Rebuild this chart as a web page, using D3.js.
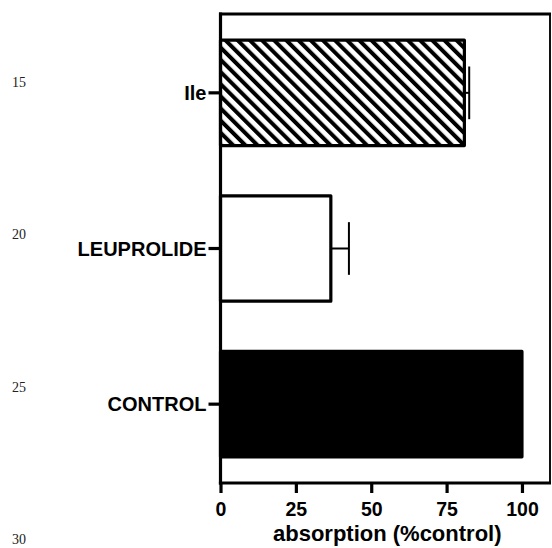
<!DOCTYPE html>
<html>
<head>
<meta charset="utf-8">
<script src="https://cdn.jsdelivr.net/npm/d3@7"></script>
<style>
  html, body { margin: 0; padding: 0; background: #fff; }
  svg { display: block; }
  .lab { font-family: "Liberation Sans", Arial, sans-serif; font-weight: bold; fill: #000; }
  .lineno { font-family: "Liberation Serif", "Times New Roman", serif; font-size: 14px; fill: #222; }
</style>
</head>
<body>
<div id="chart"></div>
<script>
// data (top to bottom)
const categories = ['Ile', 'LEUPROLIDE', 'CONTROL'];
const values = [80.9, 36.6, 100];
const errors = [1.6, 6.0, 0];
const xTicks = [0, 25, 50, 75, 100];
const xTitle = 'absorption (%control)';
const lineNumbers = ['15', '20', '25', '30'];

const width = 552, height = 548;
const plot = { left: 220.5, right: 550, top: 14, bottom: 483 };
const xMax = 109.3;

const svg = d3.select('#chart').append('svg')
  .attr('width', width)
  .attr('height', height);

// hatch for the Ile bar
const defs = svg.append('defs');
defs.append('pattern')
  .attr('id', 'hatch')
  .attr('patternUnits', 'userSpaceOnUse')
  .attr('width', 8.6)
  .attr('height', 8.6)
  .attr('patternTransform', 'rotate(-45)')
  .append('line')
  .attr('x1', 2).attr('y1', 0)
  .attr('x2', 2).attr('y2', 8.6)
  .attr('stroke', '#000')
  .attr('stroke-width', 4);

const fills = ['url(#hatch)', '#fff', '#000'];

const x = d3.scaleLinear()
  .domain([0, xMax])
  .range([plot.left, plot.right]);

const y = d3.scaleBand()
  .domain(categories)
  .range([plot.top, plot.bottom])
  .paddingInner(0.323)
  .paddingOuter(0.168);

// bars
svg.selectAll('.bar')
  .data(categories)
  .enter()
  .append('rect')
  .attr('class', 'bar')
  .attr('x', x(0))
  .attr('y', d => y(d))
  .attr('width', (d, i) => x(values[i]) - x(0))
  .attr('height', y.bandwidth())
  .attr('fill', (d, i) => fills[i])
  .attr('stroke', '#000')
  .attr('stroke-width', 3.2)
  .attr('stroke-linejoin', 'round');

// error bars (upper side only)
const errG = svg.append('g')
  .attr('stroke', '#000')
  .attr('stroke-width', 2);
categories.forEach((c, i) => {
  if (!errors[i]) return;
  const cy = y(c) + y.bandwidth() / 2;
  const xe = x(values[i] + errors[i]);
  errG.append('line')
    .attr('x1', x(values[i])).attr('x2', xe)
    .attr('y1', cy).attr('y2', cy);
  errG.append('line')
    .attr('x1', xe).attr('x2', xe)
    .attr('y1', cy - y.bandwidth() * 0.25)
    .attr('y2', cy + y.bandwidth() * 0.25);
});

// frame: thin right edge, heavy top/left/bottom
svg.append('line')
  .attr('x1', x(xMax)).attr('x2', x(xMax))
  .attr('y1', plot.top).attr('y2', plot.bottom)
  .attr('stroke', '#111').attr('stroke-width', 2);
svg.append('line')
  .attr('x1', x(0) - 1.5).attr('x2', x(xMax) + 1)
  .attr('y1', plot.top).attr('y2', plot.top)
  .attr('stroke', '#000').attr('stroke-width', 3.2);

// x axis
const xAxis = svg.append('g')
  .attr('transform', `translate(0,${plot.bottom})`)
  .call(d3.axisBottom(x).tickValues(xTicks).tickSize(10).tickPadding(9).tickSizeOuter(0));
xAxis.select('.domain').remove();
xAxis.append('line')
  .attr('x1', x(0) - 1.6).attr('x2', x(xMax) + 1)
  .attr('stroke', '#000').attr('stroke-width', 3.2);
xAxis.selectAll('.tick line').attr('stroke', '#000').attr('stroke-width', 3.2);
xAxis.selectAll('.tick text')
  .attr('class', 'lab')
  .style('font-size', '19.5px');

// y axis
const yAxis = svg.append('g')
  .attr('transform', `translate(${plot.left},0)`)
  .call(d3.axisLeft(y).tickSize(12).tickPadding(2).tickSizeOuter(0));
yAxis.select('.domain').remove();
yAxis.append('line')
  .attr('y1', plot.top - 1.6).attr('y2', plot.bottom + 1.6)
  .attr('stroke', '#000').attr('stroke-width', 3.2);
yAxis.selectAll('.tick line').attr('stroke', '#000').attr('stroke-width', 3.2);
yAxis.selectAll('.tick text')
  .attr('class', 'lab')
  .attr('dy', '0.36em')
  .style('font-size', '20px');

// x title
svg.append('text')
  .attr('class', 'lab')
  .attr('x', (x(0) + x(xMax)) / 2 + 2)
  .attr('y', 541)
  .attr('text-anchor', 'middle')
  .style('font-size', '22px')
  .text(xTitle);

// page line numbers in the left margin
const ln = d3.scaleLinear().domain([0, lineNumbers.length - 1]).range([87, 544]);
svg.selectAll('.lineno')
  .data(lineNumbers)
  .enter()
  .append('text')
  .attr('class', 'lineno')
  .attr('x', 12)
  .attr('y', (d, i) => ln(i))
  .text(d => d);
</script>
</body>
</html>
